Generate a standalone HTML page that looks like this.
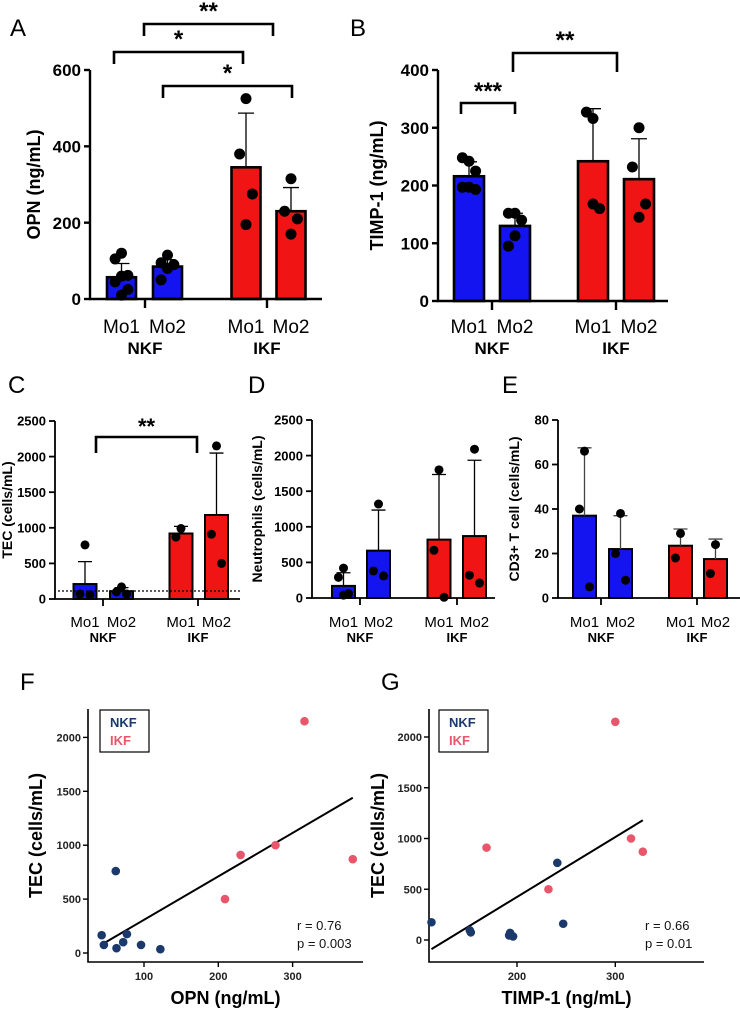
<!DOCTYPE html>
<html><head><meta charset="utf-8"><style>
html,body{margin:0;padding:0;background:#fff;}
svg{display:block;font-family:"Liberation Sans",sans-serif;}
.narrow{font-family:"Liberation Sans Narrow","Liberation Sans",sans-serif;}
</style></head><body>
<svg id="fig" width="740" height="1010" viewBox="0 0 740 1010" xmlns="http://www.w3.org/2000/svg"></svg>
<script>
// ---------- DATA ----------
const groupLabels = ["NKF","IKF"];
const subLabels = ["Mo1","Mo2","Mo1","Mo2"];

const A_means = [57,85,345,230];
const A_errs = [93,103,487,292];
const A_points = [[120,105,62,60,45,25,10],[115,95,90,80,50],[525,380,275,195],[315,230,210,170]];
const A_ticks = [0,200,400,600];

const B_means = [216,130,242,211];
const B_errs = [241,152,333,281];
const B_points = [[242,248,225,197,197,193],[152,152,140,113,95],[316,327,160,168],[300,232,168,145]];
const B_ticks = [0,100,200,300,400];

const C_means = [210,110,920,1180];
const C_errs = [525,160,1020,2050];
const C_points = [[760,70,60],[170,100,70],[990,870],[2150,910,500]];
const C_ticks = [0,500,1000,1500,2000,2500];

const D_means = [170,665,820,870];
const D_errs = [355,1235,1735,1935];
const D_points = [[420,290,60,40],[1320,380,310],[1800,670,10],[2090,320,210]];
const D_ticks = [0,500,1000,1500,2000,2500];

const E_means = [37,22,23.5,17.5];
const E_errs = [67.5,37,31,26.5];
const E_points = [[66,40,5],[38,20,8],[29,18],[24,11]];
const E_ticks = [0,20,40,60,80];

const F_nkf_x = [43,46,62,63,72,77,96,122];
const F_nkf_y = [165,75,760,45,100,175,75,35];
const F_ikf_x = [209,230,277,316,381];
const F_ikf_y = [500,910,1000,2150,870];
const F_fit_x = [46,381];
const F_fit_y = [90,1440];
const F_xticks = [100,200,300];
const F_yticks = [0,500,1000,1500,2000];

const G_nkf_x = [113,152,153,192,193,196,241,247];
const G_nkf_y = [175,95,75,45,70,35,760,160];
const G_ikf_x = [169,232,300,316,328];
const G_ikf_y = [910,500,2150,1000,870];
const G_fit_x = [113,328];
const G_fit_y = [-90,1180];
const G_xticks = [200,300];
const G_yticks = [0,500,1000,1500,2000];

// ---------- HELPERS ----------
const svg = document.getElementById('fig');
const NS = "http://www.w3.org/2000/svg";
function mk(tag, attrs, parent, text){
  const e = document.createElementNS(NS, tag);
  for (const k in attrs) e.setAttribute(k, attrs[k]);
  if (text !== undefined) e.textContent = text;
  (parent||svg).appendChild(e);
  return e;
}
function panelLetter(ch,x,y){
  const t = mk('text',{x:x,y:y,'font-size':24,fill:'#000'},svg,ch);
  
  
}

function barPanel(id, g, means, errs, points, ticks, title){
  const grp = mk('g',{});
  
  
  const y = v => g.y0 - (v - 0) / g.max * (g.y0 - g.ytop);
  const colors = ['#1414f0','#1414f0','#f01414','#f01414'];
  means.forEach((m,i)=>{
    const cx = g.cx[i];
    const r = mk('rect',{x:cx-g.bw/2,y:y(m),width:g.bw,height:g.y0-y(m),fill:colors[i],stroke:'#000','stroke-width':g.sw},grp);
    
    
    const e = mk('path',{d:`M${cx},${y(m)}V${y(errs[i])}M${cx-g.cap},${y(errs[i])}H${cx+g.cap}`,stroke:id==='e'?'#444':'#000','stroke-width':1.3,fill:'none'},grp);
    
    
    const n = points[i].length;
    points[i].forEach((p,j)=>{
      const off = n>1 ? (j%3===0?0:(j%3===1?-1:1))*g.bw*0.22 : 0;
      const c = mk('circle',{cx:cx+off,cy:y(p),r:g.pr,fill:'#000'},grp);
      
      
    });
  });
  const ax = mk('path',{d:`M${g.ax},${g.ytop}V${g.y0}H${g.xend}M${g.t1},${g.y0}V${g.y0+g.tl}M${g.t2},${g.y0}V${g.y0+g.tl}`,stroke:'#000','stroke-width':g.axw,fill:'none'},grp);
  
  
  ticks.forEach(t=>{
    mk('path',{d:`M${g.ax-6},${y(t)}H${g.ax}`,stroke:'#000','stroke-width':g.axw},grp);
    const tl = mk('text',{x:g.ax-9,y:y(t)+g.tfs*0.36,'text-anchor':'end','font-size':g.tfs,'font-weight':'bold',class:'narrow'},grp,String(t));
    
    
  });
  subLabels.forEach((s,i)=>{
    const tl = mk('text',{x:g.cx[i],y:g.ly1,'text-anchor':'middle','font-size':g.lfs,class:'narrow'},grp,s);
    
    
  });
  groupLabels.forEach((s,i)=>{
    const tl = mk('text',{x:i?g.t2:g.t1,y:g.ly2,'text-anchor':'middle','font-size':g.gfs,'font-weight':'bold',class:'narrow'},grp,s);
    
    
  });
  const tt = mk('text',{x:0,y:0,'text-anchor':'middle','font-size':g.titfs,'font-weight':'bold',transform:`translate(${g.titx},${(g.ytop+g.y0)/2}) rotate(-90)`},grp,title);
  
  
}

function bracket(x1,x2,yb,leg,stars,sy,fs){
  const b = mk('path',{d:`M${x1},${yb+leg}V${yb}H${x2}V${yb+leg}`,stroke:'#000','stroke-width':2.6,fill:'none'});
  
  
  const t = mk('text',{x:(x1+x2)/2,y:sy,'text-anchor':'middle','font-size':fs,'font-weight':'bold'},svg,stars);
  
  
}

function scatter(id, g, nx, ny, ix, iy, fx, fy, xt, yt, xtitle, rtxt, ptxt){
  const grp = mk('g',{});
  
  
  const X = v => g.x0px + (v - g.xv0) * g.xs;
  const Y = v => g.y0px - v * g.ys;
  const ax = mk('path',{d:`M${g.ax},${g.ytop}V${g.axy}H${g.xend}`,stroke:'#000','stroke-width':1.6,fill:'none'},grp);
  
  
  yt.forEach(t=>{
    mk('path',{d:`M${g.ax-5},${Y(t)}H${g.ax}`,stroke:'#000','stroke-width':1.4},grp);
    const l = mk('text',{x:g.ax-7,y:Y(t)+4,'text-anchor':'end','font-size':11,'font-weight':'bold',fill:'#222'},grp,String(t));
    
    
  });
  xt.forEach(t=>{
    mk('path',{d:`M${X(t)},${g.axy}V${g.axy+5}`,stroke:'#000','stroke-width':1.4},grp);
    const l = mk('text',{x:X(t),y:g.axy+18,'text-anchor':'middle','font-size':11,'font-weight':'bold',fill:'#222'},grp,String(t));
    
    
  });
  const fl = mk('line',{x1:X(fx[0]),y1:Y(fy[0]),x2:X(fx[1]),y2:Y(fy[1]),stroke:'#000','stroke-width':2},grp);
  
  
  nx.forEach((v,i)=>{
    const c = mk('circle',{cx:X(v),cy:Y(ny[i]),r:4.3,fill:'#1b3a6b'},grp);
    
    
  });
  ix.forEach((v,i)=>{
    const c = mk('circle',{cx:X(v),cy:Y(iy[i]),r:4.3,fill:'#e8566b'},grp);
    
    
  });
  const lg = mk('g',{},grp);
  
  
  mk('rect',{x:g.lx,y:710,width:49,height:42,fill:'#fff',stroke:'#000','stroke-width':1.2},lg);
  const l1 = mk('text',{x:g.lx+10,y:727,'font-size':13,'font-weight':'bold',fill:'#1b3a6b'},lg,'NKF');
  
  
  const l2 = mk('text',{x:g.lx+10,y:745,'font-size':13,'font-weight':'bold',fill:'#e8566b'},lg,'IKF');
  
  
  const r = mk('text',{x:g.rx,y:930,'font-size':13,fill:'#111'},grp,rtxt);
  
  
  const p = mk('text',{x:g.rx,y:948,'font-size':13,fill:'#111'},grp,ptxt);
  
  
  const xtt = mk('text',{x:(g.ax+g.xend)/2,y:1004,'text-anchor':'middle','font-size':18,'font-weight':'bold'},grp,xtitle);
  
  
  const ytt = mk('text',{x:0,y:0,'text-anchor':'middle','font-size':18,'font-weight':'bold',transform:`translate(${g.titx},${(g.ytop+g.axy)/2}) rotate(-90)`},grp,'TEC (cells/mL)');
  
  
}

// ---------- DRAW ----------
panelLetter('A',10,36);
barPanel('a',{ax:90,y0:299,ytop:70,max:600,xend:322,cx:[121.5,167.5,246,291],bw:29,sw:2.6,cap:8,pr:5.5,t1:145,t2:267,tl:9,axw:2.4,tfs:17,lfs:19,gfs:17,ly1:333,ly2:354,titfs:18,titx:40},A_means,A_errs,A_points,A_ticks,'OPN (ng/mL)');
bracket(114,243,52,12,'*',47,24);
bracket(144,273,24,12,'**',19,24);
bracket(163,292,86,12,'*',81,24);

panelLetter('B',350,36);
barPanel('b',{ax:438,y0:301,ytop:70,max:400,xend:668,cx:[469,515,593,639],bw:30,sw:2.6,cap:8,pr:5.5,t1:492,t2:616,tl:9,axw:2.4,tfs:17,lfs:19,gfs:17,ly1:333,ly2:354,titfs:18,titx:383},B_means,B_errs,B_points,B_ticks,'TIMP-1 (ng/mL)');
bracket(461,515,103,11,'***',99,24);
bracket(513,617,53,19,'**',48,24);

panelLetter('C',8,393);
barPanel('c',{ax:55,y0:599,ytop:421,max:2500,xend:240,cx:[85,121.5,181,216.5],bw:23,sw:2,cap:7,pr:4.5,t1:103,t2:198,tl:7,axw:1.8,tfs:13,lfs:15,gfs:13,ly1:627,ly2:642,titfs:14,titx:12},C_means,C_errs,C_points,C_ticks,'TEC (cells/mL)');
const dl = mk('line',{x1:58,y1:591,x2:240,y2:591,stroke:'#000','stroke-width':1.3,'stroke-dasharray':'2,2'});


bracket(96,197,437,16,'**',434,22);

panelLetter('D',248,393);
barPanel('d',{ax:312,y0:598,ytop:420,max:2500,xend:495,cx:[343.5,378.5,439,474.5],bw:23,sw:2,cap:7,pr:4.5,t1:360,t2:457,tl:7,axw:1.8,tfs:13,lfs:15,gfs:13,ly1:627,ly2:642,titfs:14,titx:262},D_means,D_errs,D_points,D_ticks,'Neutrophils (cells/mL)');

panelLetter('E',502,393);
barPanel('e',{ax:558,y0:598,ytop:420,max:80,xend:740,cx:[584.5,620.5,680.5,715.5],bw:23,sw:2,cap:7,pr:4.5,t1:601,t2:697,tl:7,axw:1.8,tfs:13,lfs:15,gfs:13,ly1:627,ly2:642,titfs:14,titx:519},E_means,E_errs,E_points,E_ticks,'CD3+ T cell (cells/mL)');

panelLetter('F',20,690);
scatter('f',{ax:88,ytop:709,axy:962,xend:363,x0px:144,xv0:100,xs:0.743,y0px:953,ys:0.1078,lx:100,rx:297,titx:42},F_nkf_x,F_nkf_y,F_ikf_x,F_ikf_y,F_fit_x,F_fit_y,F_xticks,F_yticks,'OPN (ng/mL)','r = 0.76','p = 0.003');

panelLetter('G',381,690);
scatter('g',{ax:429,ytop:709,axy:962,xend:704,x0px:517,xv0:200,xs:0.983,y0px:940,ys:0.1015,lx:439,rx:645,titx:384},G_nkf_x,G_nkf_y,G_ikf_x,G_ikf_y,G_fit_x,G_fit_y,G_xticks,G_yticks,'TIMP-1 (ng/mL)','r = 0.66','p = 0.01');
</script>
</body></html>
